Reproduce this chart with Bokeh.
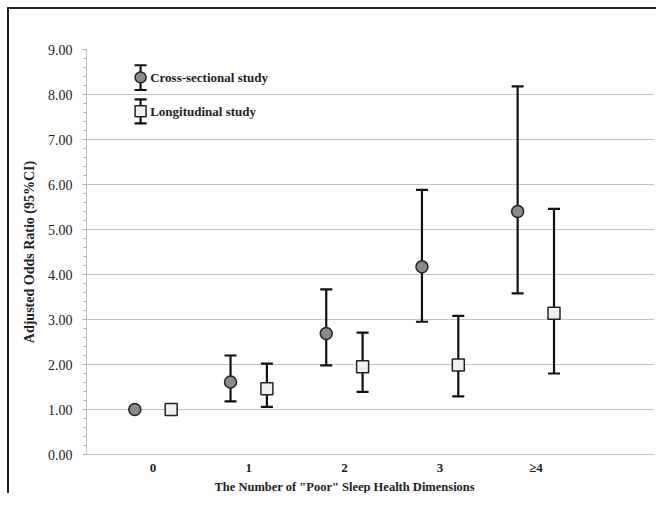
import numpy as np
from bokeh.plotting import figure
from bokeh.models import (ColumnDataSource, FixedTicker, Range1d, Title, Label)
from bokeh.embed import file_html
from bokeh.resources import INLINE

# ---- data ----
categories = [0, 1, 2, 3, 4]
tick_labels = ["0", "1", "2", "3", "≥4"]
cross_or = [1.00, 1.61, 2.69, 4.17, 5.40]
cross_lo = [1.00, 1.18, 1.98, 2.95, 3.58]
cross_hi = [1.00, 2.20, 3.67, 5.88, 8.18]
long_or = [1.00, 1.46, 1.95, 1.99, 3.14]
long_lo = [1.00, 1.06, 1.39, 1.29, 1.80]
long_hi = [1.00, 2.02, 2.71, 3.08, 5.46]

# ---- layout/style constants ----
OFFSET = 0.19
FONT = "Liberation Serif"
CAP = 12

cx = [c - OFFSET for c in categories]
lx = [c + OFFSET for c in categories]

p = figure(width=656, height=493, output_backend="svg", toolbar_location=None,
           x_range=Range1d(-0.695, 5.24), y_range=Range1d(0, 9),
           min_border_left=86, min_border_top=49, min_border_right=2,
           min_border_bottom=0)
p.outline_line_color = None
p.background_fill_color = "white"
p.border_fill_color = None
# outer figure border: left/top dark edge as in the reference
p.styles = {"box-shadow": "inset 7px 7px 0 0 #ffffff, inset 9px 9px 0 0 #222222"}

# grid
p.xgrid.grid_line_color = None
p.ygrid.grid_line_color = "#c4c4c4"
p.ygrid.grid_line_width = 1.2

# y axis
p.yaxis.ticker = FixedTicker(ticks=list(np.arange(0, 9.01, 1.0)),
                             minor_ticks=list(np.arange(0, 9.01, 0.2)))
p.yaxis.major_label_overrides = {float(v): f"{v:.2f}" for v in range(10)}
p.yaxis.axis_line_color = "#c4c4c4"
p.yaxis.major_tick_line_color = "#b0b0b0"
p.yaxis.minor_tick_line_color = "#b0b0b0"
p.yaxis.major_tick_out = 4
p.yaxis.major_tick_in = 0
p.yaxis.minor_tick_out = 3
p.yaxis.minor_tick_in = 0
p.yaxis.major_label_standoff = 10
p.yaxis.major_label_text_font = FONT
p.yaxis.major_label_text_font_size = "14px"
p.yaxis.major_label_text_color = "#222222"
p.yaxis.axis_label = "Adjusted Odds Ratio (95%CI)"
p.yaxis.axis_label_text_font = FONT
p.yaxis.axis_label_text_font_size = "14px"
p.yaxis.axis_label_text_font_style = "bold"
p.yaxis.axis_label_text_color = "#222222"
p.yaxis.axis_label_standoff = 8

# x axis
p.xaxis.ticker = FixedTicker(ticks=categories)
p.xaxis.major_label_overrides = {c: t for c, t in zip(categories, tick_labels)}
p.xaxis.axis_line_color = "#c4c4c4"
p.xaxis.major_tick_line_color = None
p.xaxis.minor_tick_line_color = None
p.xaxis.major_tick_out = 0
p.xaxis.major_tick_in = 0
p.xaxis.major_label_standoff = 5
p.xaxis.major_label_text_font = FONT
p.xaxis.major_label_text_font_size = "13px"
p.xaxis.major_label_text_font_style = "bold"
p.xaxis.major_label_text_color = "#222222"

# x axis title (offset to match reference placement)
xt = Title(text='The Number of "Poor" Sleep Health Dimensions', align="left",
           offset=128, text_font=FONT, text_font_size="12.5px",
           text_font_style="bold", text_color="#222222", standoff=0)
p.add_layout(xt, "below")

# error bars
def errbars(xs, lo, hi):
    src = ColumnDataSource(dict(x=xs, lo=lo, hi=hi))
    p.segment(x0="x", y0="lo", x1="x", y1="hi", source=src,
              line_color="#111111", line_width=2.2)
    p.scatter(x="x", y="hi", source=src, marker="dash", size=CAP,
              line_color="#111111", line_width=2.2)
    p.scatter(x="x", y="lo", source=src, marker="dash", size=CAP,
              line_color="#111111", line_width=2.2)

errbars(cx, cross_lo, cross_hi)
errbars(lx, long_lo, long_hi)

p.scatter(x=cx, y=cross_or, marker="circle", size=12, fill_color="#8a8a8a",
          line_color="#222222", line_width=1.5)
p.scatter(x=lx, y=long_or, marker="square", size=12, fill_color="#f0f0f0",
          line_color="#222222", line_width=1.5)

# manual legend key (layout constants)
LEG_X = -0.13
LEG_TEXT_X = -0.03
leg_c = dict(y=8.38, lo=8.10, hi=8.65)
leg_l = dict(y=7.63, lo=7.36, hi=7.89)
for d, mk, fc, name in [(leg_c, "circle", "#8a8a8a", "Cross-sectional study"),
                        (leg_l, "square", "#f0f0f0", "Longitudinal study")]:
    errbars([LEG_X], [d["lo"]], [d["hi"]])
    p.scatter(x=[LEG_X], y=[d["y"]], marker=mk, size=11, fill_color=fc,
              line_color="#222222", line_width=1.5)
    p.add_layout(Label(x=LEG_TEXT_X, y=d["y"], text=name, text_font=FONT,
                       text_font_size="13px", text_font_style="bold",
                       text_baseline="middle", text_color="#222222"))

open("out.html", "w").write(file_html(p, INLINE))
